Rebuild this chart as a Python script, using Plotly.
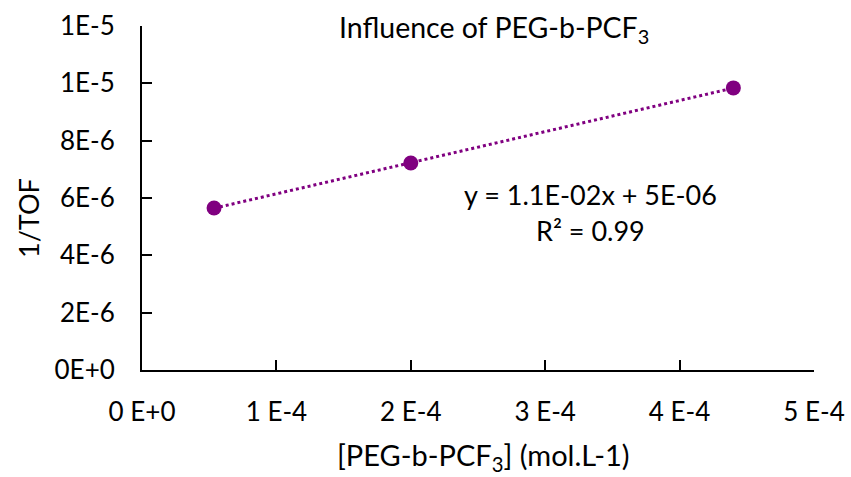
import numpy as np
import plotly.graph_objects as go

# PEG-b-PCF3 concentration (mol/L) and inverse turnover frequency
conc = [5.36e-5, 2.0e-4, 4.40e-4]
inv_tof = [5.65e-6, 7.22e-6, 9.84e-6]

x_tickvals = [0, 1e-4, 2e-4, 3e-4, 4e-4, 5e-4]
x_ticktext = ["0 E+0", "1 E-4", "2 E-4", "3 E-4", "4 E-4", "5 E-4"]
y_tickvals = [0, 2e-6, 4e-6, 6e-6, 8e-6, 1e-5, 1.2e-5]
y_ticktext = ["0E+0", "2E-6", "4E-6", "6E-6", "8E-6", "1E-5", "1E-5"]

title_text = "Influence of PEG-b-PCF<sub>3</sub>"
x_title = "[PEG-b-PCF<sub>3</sub>] (mol.L-1)"
y_title = "1/TOF"
eq_text = "y = 1.1E-02x + 5E-06"
r2_text = "R² = 0.99"

PURPLE = "#800080"
FONT = "Lato"

# plot area in pixels
W, H = 851, 477
PL, PT, PR, PB = 142, 26, 814, 370
PW, PH = PR - PL, PB - PT


def px(x):
    return (x - PL) / PW


def py(y):
    return 1 - (y - PT) / PH


# linear trendline over the measured range
slope, intercept = np.polyfit(conc, inv_tof, 1)
fit_x = [min(conc), max(conc)]
fit_y = [slope * v + intercept for v in fit_x]

fig = go.Figure()
fig.add_trace(go.Scatter(
    x=fit_x, y=fit_y, mode="lines",
    line=dict(color=PURPLE, width=3, dash="dot"),
    hoverinfo="skip", showlegend=False,
))
fig.add_trace(go.Scatter(
    x=conc, y=inv_tof, mode="markers",
    marker=dict(color=PURPLE, size=15),
    showlegend=False,
))

axis_common = dict(
    showline=True, linecolor="black", linewidth=2,
    ticks="inside", ticklen=10, tickwidth=1.5, tickcolor="black",
    showgrid=False, zeroline=False, automargin=False,
    tickfont=dict(family=FONT, size=26, color="black"),
)


def label(text, x, y, size, **kw):
    return dict(text=text, x=px(x), y=py(y), xref="paper", yref="paper",
                showarrow=False, xanchor="center", yanchor="middle",
                font=dict(family=FONT, size=size, color="black"), **kw)


fig.update_layout(
    width=W, height=H,
    margin=dict(l=PL, r=W - PR, t=PT, b=H - PB, pad=0, autoexpand=False),
    paper_bgcolor="white", plot_bgcolor="white",
    font=dict(family=FONT, color="black"),
    xaxis=dict(range=[0, 5e-4], tickmode="array", tickvals=x_tickvals,
               ticktext=x_ticktext, ticklabelstandoff=18, **axis_common),
    yaxis=dict(range=[0, 1.2e-5], tickmode="array", tickvals=y_tickvals,
               ticktext=y_ticktext, ticklabelstandoff=20, **axis_common),
    annotations=[
        label(title_text, 494, 29, 28.5),
        label(eq_text, 590, 194, 27),
        label(r2_text, 590, 230, 27),
        label(x_title, 483, 456, 29),
        label(y_title, 28, 218, 27, textangle=-90),
    ],
)

fig.write_html("out.html")
